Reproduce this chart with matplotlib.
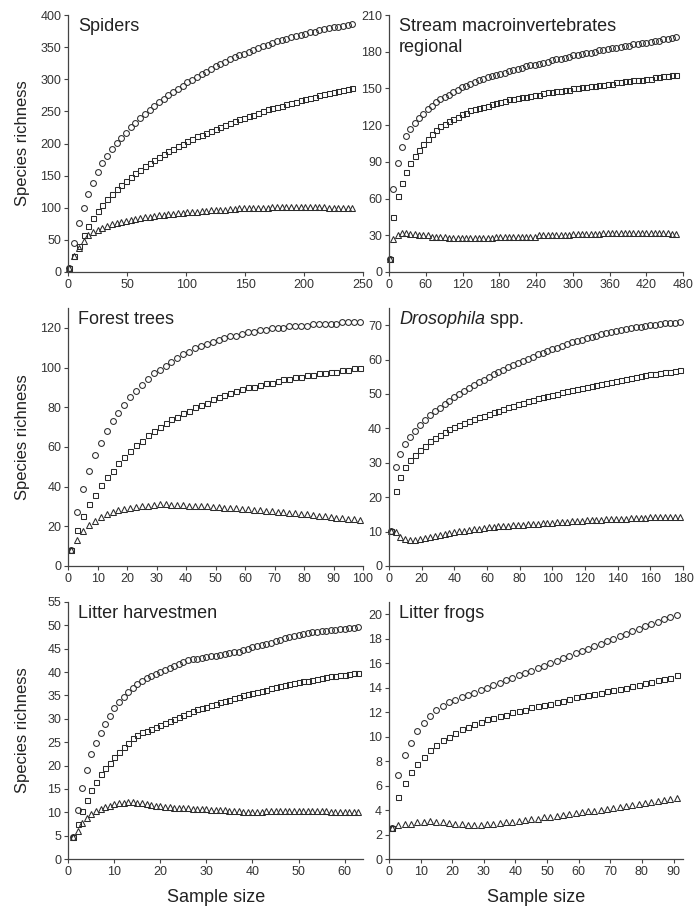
import numpy as np
import matplotlib
matplotlib.use("Agg")
import matplotlib.pyplot as plt

plt.rcParams["font.family"] = ["Liberation Sans", "DejaVu Sans"]

# --- Spiders ---
SPIDERS_X = np.arange(1, 242, 4)
SPIDERS_CIRC = [6, 45, 76, 100, 121, 139, 155, 169, 181, 191,
                201, 209, 217, 225, 232, 239, 246, 252, 258, 264,
                270, 275, 280, 285, 290, 295, 299, 304, 308, 312,
                316, 320, 324, 327, 331, 334, 337, 340, 343, 346,
                349, 351, 354, 356, 359, 361, 363, 365, 367, 369,
                371, 373, 374, 376, 378, 379, 381, 382, 383, 384,
                386]
SPIDERS_SQ = [6, 25, 40, 57, 71, 84, 95, 105, 114, 122,
              129, 136, 142, 148, 154, 159, 165, 170, 175, 179,
              184, 188, 192, 196, 200, 204, 207, 211, 214, 217,
              220, 223, 226, 229, 232, 235, 238, 240, 243, 245,
              248, 250, 253, 255, 257, 259, 261, 263, 265, 267,
              269, 271, 273, 275, 277, 279, 280, 282, 284, 285,
              287]
SPIDERS_TRI = [6, 25, 38, 48, 57, 62, 66, 69, 72, 74,
               76, 78, 80, 81, 82, 84, 85, 86, 87, 88,
               89, 90, 91, 92, 92, 93, 94, 94, 95, 95,
               96, 96, 97, 97, 98, 98, 99, 99, 99, 100,
               100, 100, 100, 101, 101, 101, 101, 101, 101, 101,
               101, 101, 101, 101, 101, 100, 100, 100, 100, 100,
               99]

# --- Stream macroinvertebrates regional ---
STREAM_X = np.concatenate([[1], np.arange(7, 470, 7)])
STREAM_CIRC = [11,
               68, 89, 102, 111, 117, 122, 126, 129, 133, 136,
               139, 141, 143, 145, 147, 149, 151, 152, 154, 155,
               157, 158, 159, 160, 161, 162, 163, 164, 165, 166,
               167, 168, 169, 169, 170, 171, 172, 173, 174, 174,
               175, 176, 177, 177, 178, 179, 179, 180, 181, 181,
               182, 183, 183, 184, 185, 185, 186, 186, 187, 187,
               188, 189, 189, 190, 190, 191, 192]
STREAM_SQ = [11,
             45, 62, 73, 82, 89, 95, 100, 105, 109, 113,
             116, 119, 121, 123, 125, 127, 129, 130, 132, 133,
             134, 135, 136, 137, 138, 139, 140, 141, 141, 142,
             143, 143, 144, 145, 145, 146, 147, 147, 148, 148,
             149, 149, 150, 150, 151, 151, 152, 152, 153, 153,
             154, 154, 155, 155, 156, 156, 157, 157, 157, 158,
             158, 159, 159, 160, 160, 161, 161]
STREAM_TRI = [11,
              27, 30, 32, 32, 31, 31, 30, 30, 30, 29,
              29, 29, 29, 28, 28, 28, 28, 28, 28, 28,
              28, 28, 28, 28, 29, 29, 29, 29, 29, 29,
              29, 29, 29, 29, 30, 30, 30, 30, 30, 30,
              30, 30, 31, 31, 31, 31, 31, 31, 31, 32,
              32, 32, 32, 32, 32, 32, 32, 32, 32, 32,
              32, 32, 32, 32, 32, 31, 31]

# --- Forest trees ---
TREES_X = np.arange(1, 100, 2)
TREES_CIRC = [8, 27, 39, 48, 56, 62, 68, 73, 77, 81,
              85, 88, 91, 94, 97, 99, 101, 103, 105, 107,
              108, 110, 111, 112, 113, 114, 115, 116, 116, 117,
              118, 118, 119, 119, 120, 120, 120, 121, 121, 121,
              121, 122, 122, 122, 122, 122, 123, 123, 123, 123]
TREES_SQ = [8, 18, 25, 31, 36, 41, 45, 48, 52, 55,
            58, 61, 63, 66, 68, 70, 72, 74, 75, 77,
            78, 80, 81, 82, 84, 85, 86, 87, 88, 89,
            90, 90, 91, 92, 92, 93, 94, 94, 95, 95,
            96, 96, 97, 97, 98, 98, 99, 99, 100, 100]
TREES_TRI = [8, 13, 17.5, 20.5, 22.5, 24.5, 26, 27, 28, 28.5,
             29, 29.5, 30, 30, 30.5, 31, 31, 30.5, 30.5, 30.5,
             30, 30, 30, 30, 29.5, 29.5, 29, 29, 29, 28.5,
             28.5, 28, 28, 27.5, 27.5, 27, 27, 26.5, 26.5, 26,
             26, 25.5, 25, 25, 24.5, 24, 24, 23.5, 23.5, 23]

# --- Drosophila spp. ---
DROSO_X = np.arange(1, 179, 3)
DROSO_CIRC = [10.3, 28.8, 32.7, 35.5, 37.6, 39.3, 41, 42.5, 43.8, 45,
              46, 47, 48, 49, 50, 51, 51.8, 52.6, 53.4, 54.2,
              55, 55.7, 56.4, 57.1, 57.8, 58.5, 59.1, 59.7, 60.3, 60.9,
              61.5, 62, 62.5, 63, 63.5, 64, 64.5, 65, 65.4, 65.8,
              66.2, 66.6, 67, 67.4, 67.7, 68, 68.3, 68.6, 68.9, 69.2,
              69.4, 69.6, 69.8, 70, 70.2, 70.4, 70.5, 70.6, 70.7, 70.8]
DROSO_SQ = [10.3, 21.8, 25.9, 28.8, 30.7, 32.2, 33.6, 35, 36.2, 37.2,
            38.1, 39, 39.7, 40.4, 41, 41.6, 42.2, 42.7, 43.2, 43.7,
            44.2, 44.7, 45.2, 45.7, 46.2, 46.6, 47, 47.5, 47.9, 48.3,
            48.7, 49.1, 49.4, 49.8, 50.1, 50.5, 50.8, 51.2, 51.5, 51.8,
            52.1, 52.4, 52.7, 53, 53.3, 53.6, 53.9, 54.1, 54.4, 54.7,
            54.9, 55.2, 55.4, 55.7, 55.9, 56.1, 56.3, 56.5, 56.7, 56.9]
DROSO_TRI = [10.3, 10, 8.5, 7.8, 7.6, 7.6, 7.8, 8, 8.3, 8.6,
             9, 9.3, 9.6, 9.9, 10.1, 10.3, 10.5, 10.7, 10.9, 11,
             11.2, 11.4, 11.5, 11.6, 11.7, 11.8, 11.9, 12, 12.1, 12.2,
             12.3, 12.4, 12.5, 12.6, 12.7, 12.8, 12.9, 13, 13.1, 13.2,
             13.3, 13.4, 13.4, 13.5, 13.6, 13.6, 13.7, 13.8, 13.8, 13.9,
             13.9, 14, 14, 14.1, 14.1, 14.2, 14.2, 14.3, 14.3, 14.2]

# --- Litter harvestmen ---
HARV_X = np.arange(1, 64, 1)
HARV_CIRC = [4.8, 10.4, 15.1, 19.1, 22.4, 24.9, 27, 28.9, 30.6, 32.3,
             33.6, 34.7, 35.8, 36.7, 37.5, 38.2, 38.7, 39.2, 39.6, 40,
             40.4, 40.8, 41.2, 41.7, 42.2, 42.5, 42.7, 42.9, 43.1, 43.3,
             43.4, 43.5, 43.6, 43.8, 44, 44.2, 44.4, 44.7, 45, 45.3,
             45.5, 45.7, 46, 46.3, 46.6, 46.9, 47.2, 47.5, 47.7, 47.9,
             48.1, 48.3, 48.5, 48.6, 48.8, 48.9, 49, 49.1, 49.2, 49.3,
             49.4, 49.5, 49.6]
HARV_SQ = [4.8, 7.4, 10.2, 12.6, 14.8, 16.4, 18.1, 19.4, 20.6, 21.8,
           23, 24, 24.9, 25.8, 26.6, 27.1, 27.5, 27.9, 28.3, 28.7,
           29.2, 29.6, 30, 30.4, 30.8, 31.2, 31.6, 32, 32.3, 32.6,
           32.9, 33.2, 33.5, 33.8, 34.1, 34.4, 34.7, 35, 35.3, 35.6,
           35.8, 36, 36.2, 36.5, 36.8, 37, 37.2, 37.4, 37.6, 37.8,
           38, 38.2, 38.4, 38.6, 38.8, 38.9, 39.1, 39.2, 39.3, 39.4,
           39.6, 39.7, 39.8]
HARV_TRI = [4.8, 6, 7.6, 8.8, 9.6, 10.3, 10.8, 11.1, 11.4, 11.7,
            11.9, 12, 12.1, 12.1, 12, 11.9, 11.7, 11.5, 11.4, 11.3,
            11.2, 11.1, 11, 11, 11, 10.9, 10.8, 10.8, 10.7, 10.6,
            10.5, 10.5, 10.4, 10.4, 10.3, 10.2, 10.2, 10.1, 10.1, 10,
            10, 10.1, 10.2, 10.2, 10.2, 10.2, 10.2, 10.2, 10.2, 10.2,
            10.2, 10.2, 10.2, 10.2, 10.2, 10.2, 10.1, 10.1, 10.1, 10.1,
            10.1, 10.1, 10.1]

# --- Litter frogs ---
FROGS_X = np.arange(1, 92, 2)
FROGS_CIRC = [2.55, 6.85, 8.5, 9.5, 10.5, 11.1, 11.7, 12.2, 12.5, 12.8,
              13, 13.2, 13.4, 13.6, 13.8, 14, 14.2, 14.4, 14.6, 14.8,
              15, 15.2, 15.4, 15.6, 15.8, 16, 16.2, 16.4, 16.6, 16.8,
              17, 17.2, 17.4, 17.6, 17.8, 18, 18.2, 18.4, 18.6, 18.8,
              19, 19.2, 19.4, 19.6, 19.8, 19.9]
FROGS_SQ = [2.55, 5.1, 6.2, 7.1, 7.8, 8.3, 8.9, 9.3, 9.7, 10,
            10.3, 10.6, 10.8, 11, 11.2, 11.4, 11.5, 11.7, 11.8, 12,
            12.1, 12.2, 12.4, 12.5, 12.6, 12.7, 12.8, 12.9, 13.1, 13.2,
            13.3, 13.4, 13.5, 13.6, 13.7, 13.8, 13.9, 14, 14.1, 14.2,
            14.4, 14.5, 14.6, 14.7, 14.8, 15]
FROGS_TRI = [2.55, 2.8, 2.85, 2.9, 3, 3.05, 3.1, 3.05, 3, 2.95,
             2.9, 2.85, 2.8, 2.8, 2.8, 2.85, 2.9, 2.95, 3, 3.05,
             3.1, 3.2, 3.25, 3.3, 3.4, 3.45, 3.5, 3.6, 3.65, 3.75,
             3.8, 3.9, 3.95, 4, 4.1, 4.15, 4.25, 4.3, 4.4, 4.5,
             4.55, 4.65, 4.7, 4.8, 4.9, 5]

PANELS = [
    # titulo, x, circ, sq, tri, xlim, xticks, ylim, yticks
    ("Spiders", SPIDERS_X, SPIDERS_CIRC, SPIDERS_SQ, SPIDERS_TRI,
     250, np.arange(0, 251, 50), 400, np.arange(0, 401, 50)),
    ("Stream macroinvertebrates\nregional", STREAM_X, STREAM_CIRC, STREAM_SQ, STREAM_TRI,
     480, np.arange(0, 481, 60), 210, np.arange(0, 211, 30)),
    ("Forest trees", TREES_X, TREES_CIRC, TREES_SQ, TREES_TRI,
     100, np.arange(0, 101, 10), 130, np.arange(0, 121, 20)),
    ("Drosophila", DROSO_X, DROSO_CIRC, DROSO_SQ, DROSO_TRI,
     180, np.arange(0, 181, 20), 75, np.arange(0, 71, 10)),
    ("Litter harvestmen", HARV_X, HARV_CIRC, HARV_SQ, HARV_TRI,
     64, np.arange(0, 61, 10), 55, np.arange(0, 56, 5)),
    ("Litter frogs", FROGS_X, FROGS_CIRC, FROGS_SQ, FROGS_TRI,
     93, np.arange(0, 91, 10), 21, np.arange(0, 21, 2)),
]

W, H = 696, 910
COL_L = [68.3, 389]
COL_W = [294.7, 294]
ROW_TOP = [15, 308, 602]
ROW_BOT = [272, 566, 859]

EDGE = "#2b2b2b"
TXT = "#222222"

fig = plt.figure(figsize=(W / 100, H / 100), dpi=100)

for i, (titulo, x, circ, sq, tri, xmax, xt, ymax, yt) in enumerate(PANELS):
    r, c = divmod(i, 2)
    ax = fig.add_axes([COL_L[c] / W, 1 - ROW_BOT[r] / H,
                       COL_W[c] / W, (ROW_BOT[r] - ROW_TOP[r]) / H])

    ax.plot(x, circ, "o", ms=4.2, mfc="none", mec=EDGE, mew=0.75, clip_on=False)
    ax.plot(x, sq, "s", ms=3.6, mfc="none", mec=EDGE, mew=0.75, clip_on=False)
    ax.plot(x, tri, "^", ms=4.4, mfc="none", mec=EDGE, mew=0.75, clip_on=False)

    ax.set_xlim(0, xmax)
    ax.set_ylim(0, ymax)
    ax.set_xticks(xt)
    ax.set_yticks(yt)
    ax.spines[["top", "right"]].set_visible(False)
    for s in ("left", "bottom"):
        ax.spines[s].set_color("#444444")
        ax.spines[s].set_linewidth(0.9)
    ax.tick_params(direction="out", length=3, width=0.8, colors="#444444",
                   labelcolor="#333333", labelsize=9, pad=2)

    if titulo == "Drosophila":
        t1 = ax.annotate(titulo, xy=(0, 1), xycoords="axes fraction",
                         xytext=(10, -3), textcoords="offset pixels",
                         ha="left", va="top", fontsize=13, style="italic", color=TXT)
        ax.annotate(" spp.", xy=(1, 0), xycoords=t1, ha="left", va="bottom",
                    fontsize=13, color=TXT)
    else:
        ax.annotate(titulo, xy=(0, 1), xycoords="axes fraction",
                    xytext=(10, -3), textcoords="offset pixels",
                    ha="left", va="top", fontsize=13, color=TXT, linespacing=1.3)

    if c == 0:
        yc = 1 - (ROW_TOP[r] + ROW_BOT[r]) / 2 / H
        fig.text(23 / W, yc, "Species richness", rotation=90,
                 ha="center", va="center", fontsize=12, color=TXT)
    if r == 2:
        xc = (COL_L[c] + COL_W[c] / 2) / W
        fig.text(xc, 1 - 897 / H, "Sample size", ha="center", va="center",
                 fontsize=13, color=TXT)

fig.savefig("out.png", dpi=100, facecolor="white")
